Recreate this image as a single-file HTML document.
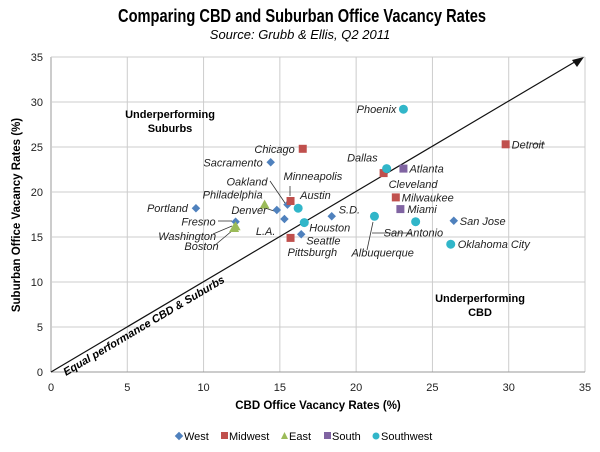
<!DOCTYPE html>
<html><head><meta charset="utf-8"><style>
body{margin:0;background:#fff}
svg{display:block;font-family:"Liberation Sans",sans-serif}
.lbl{font-size:11px;font-style:italic;fill:#222}
.tick{font-size:11px;fill:#222}
</style></head><body>
<svg id="chart" width="600" height="452" viewBox="0 0 600 452">
<text x="302" y="22" text-anchor="middle" font-size="18" font-weight="bold" textLength="368" lengthAdjust="spacingAndGlyphs">Comparing CBD and Suburban Office Vacancy Rates</text>
<text x="300" y="39" text-anchor="middle" font-size="13" font-style="italic">Source: Grubb &amp; Ellis, Q2 2011</text>
<g id="grid"></g>
<g id="ticks"></g>
<text x="318" y="409" text-anchor="middle" font-size="11.5" font-weight="bold">CBD Office Vacancy Rates (%)</text>
<text transform="translate(20,215) rotate(-90)" text-anchor="middle" font-size="11.5" font-weight="bold">Suburban Office Vacancy Rates (%)</text>
<line x1="51" y1="372" x2="578" y2="60" stroke="#111" stroke-width="1.2"/>
<polygon points="584,57 572,60 577,67" fill="#111"/>
<text transform="translate(66,376) rotate(-30.6)" font-size="11" font-weight="bold" font-style="italic">Equal performance CBD &amp; Suburbs</text>
<text x="170" y="118" text-anchor="middle" font-size="11" font-weight="bold">Underperforming</text>
<text x="170" y="132" text-anchor="middle" font-size="11" font-weight="bold">Suburbs</text>
<text x="480" y="302" text-anchor="middle" font-size="11" font-weight="bold">Underperforming</text>
<text x="480" y="316" text-anchor="middle" font-size="11" font-weight="bold">CBD</text>
<g id="leaders" stroke="#333" stroke-width="0.8">
<line x1="218" y1="221" x2="232" y2="221"/><line x1="213" y1="234" x2="232" y2="226"/><line x1="214" y1="246" x2="233" y2="230"/>
<line x1="262" y1="207" x2="274" y2="211"/><line x1="270" y1="181" x2="285" y2="203"/><line x1="290" y1="186" x2="290" y2="196"/>
<line x1="367" y1="250" x2="373" y2="222"/><line x1="372" y1="233" x2="412" y2="233"/><line x1="532" y1="144" x2="545" y2="144"/>
</g>
<g id="points"></g>
<g id="labels"></g>
<g id="legend" font-size="11" transform="translate(0,437)">
<g><rect x="176" y="-4" width="6" height="6" fill="#4f81bd" transform="rotate(45 179 -1)"/><text x="184" y="3">West</text></g>
<g><rect x="221" y="-5" width="7" height="7" fill="#c0504d"/><text x="229" y="3">Midwest</text></g>
<g><polygon points="281,2 288,2 284.5,-5" fill="#9bbb59"/><text x="289" y="3">East</text></g>
<g><rect x="324" y="-5" width="7" height="7" fill="#8064a2"/><text x="332" y="3">South</text></g>
<g><circle cx="376" cy="-1" r="3.5" fill="#31b6c9"/><text x="381" y="3">Southwest</text></g>
</g>
</svg>
<script>
const cities=["Sacramento","Portland","Fresno","Denver","L.A.","Oakland","S.D.","Seattle","San Jose","Chicago","Minneapolis","Pittsburgh","Cleveland","Milwaukee","Detroit","Philadelphia","Washington","Boston","Atlanta","Miami","Phoenix","Dallas","Austin","Houston","Albuquerque","San Antonio","Oklahoma City"];
const regions=["West","West","West","West","West","West","West","West","West","Midwest","Midwest","Midwest","Midwest","Midwest","Midwest","East","East","East","South","South","Southwest","Southwest","Southwest","Southwest","Southwest","Southwest","Southwest"];
const cbdRates=[14.4,9.5,12.1,14.8,15.3,15.5,18.4,16.4,26.4,16.5,15.7,15.7,21.8,22.6,29.8,14.0,12.0,12.1,23.1,22.9,23.1,22.0,16.2,16.6,21.2,23.9,26.2];
const suburbRates=[23.3,18.2,16.7,18.0,17.0,18.6,17.3,15.3,16.8,24.8,19.0,14.9,22.1,19.4,25.3,18.6,16.0,16.2,22.6,18.1,29.2,22.6,18.2,16.6,17.3,16.7,14.2];
const xTicks=[0,5,10,15,20,25,30,35];
const yTicks=[0,5,10,15,20,25,30,35];
const colors={West:"#4f81bd",Midwest:"#c0504d",East:"#9bbb59",South:"#8064a2",Southwest:"#31b6c9"};
// label placement: [dx,dy,anchor]
const labelPos={"Sacramento":[-8,4,"end"],"Portland":[-8,4,"end"],"Fresno":[-20,4,"end"],"Denver":[-10,4,"end"],"L.A.":[-9,16,"end"],"Oakland":[-20,-19,"end"],"S.D.":[7,-3,"start"],"Seattle":[5,10,"start"],"San Jose":[6,4,"start"],"Chicago":[-8,4,"end"],"Minneapolis":[-7,-21,"start"],"Pittsburgh":[-3,18,"start"],"Cleveland":[5,15,"start"],"Milwaukee":[6,4,"start"],"Detroit":[6,4,"start"],"Philadelphia":[-2,-6,"end"],"Washington":[-18,12,"end"],"Boston":[-17,24,"end"],"Atlanta":[6,4,"start"],"Miami":[7,4,"start"],"Phoenix":[-7,4,"end"],"Dallas":[-9,-7,"end"],"Austin":[2,-9,"start"],"Houston":[5,9,"start"],"Albuquerque":[-23,40,"start"],"San Antonio":[-32,15,"start"],"Oklahoma City":[7,4,"start"]};
const X=v=>51+v*(534/35), Y=v=>372-v*(315/35);
const NS="http://www.w3.org/2000/svg";
function mk(t,a,p){const e=document.createElementNS(NS,t);for(const k in a)e.setAttribute(k,a[k]);p.appendChild(e);return e;}
const grid=document.getElementById('grid'),ticks=document.getElementById('ticks');
xTicks.forEach(t=>{const l=mk('line',{x1:X(t),x2:X(t),y1:Y(35),y2:Y(0),stroke:t===0?'#999':'#ccc','stroke-width':1},grid);


const tx=mk('text',{x:X(t),y:391,'text-anchor':'middle',class:'tick'},ticks);tx.textContent=t;

});
yTicks.forEach(t=>{const l=mk('line',{x1:X(0),x2:X(35),y1:Y(t),y2:Y(t),stroke:t===0?'#999':'#ccc','stroke-width':1},grid);


const tx=mk('text',{x:43,y:Y(t)+4,'text-anchor':'end',class:'tick'},ticks);tx.textContent=t;

});
const pts=document.getElementById('points'),lbs=document.getElementById('labels');
cities.forEach((c,i)=>{const x=X(cbdRates[i]),y=Y(suburbRates[i]),r=regions[i],col=colors[r];let e;
if(r==="West")e=mk('rect',{x:x-3,y:y-3,width:6,height:6,fill:col,transform:`rotate(45 ${x} ${y})`},pts);
else if(r==="Midwest"||r==="South")e=mk('rect',{x:x-4,y:y-4,width:8,height:8,fill:col},pts);
else if(r==="East")e=mk('polygon',{points:`${x-5},${y+4} ${x+5},${y+4} ${x},${y-5}`,fill:col},pts);
else e=mk('circle',{cx:x,cy:y,r:4.5,fill:col},pts);


const p=labelPos[c];const t=mk('text',{x:x+p[0],y:y+p[1],'text-anchor':p[2],class:'lbl'},lbs);t.textContent=c;

});
</script>
</body></html>
